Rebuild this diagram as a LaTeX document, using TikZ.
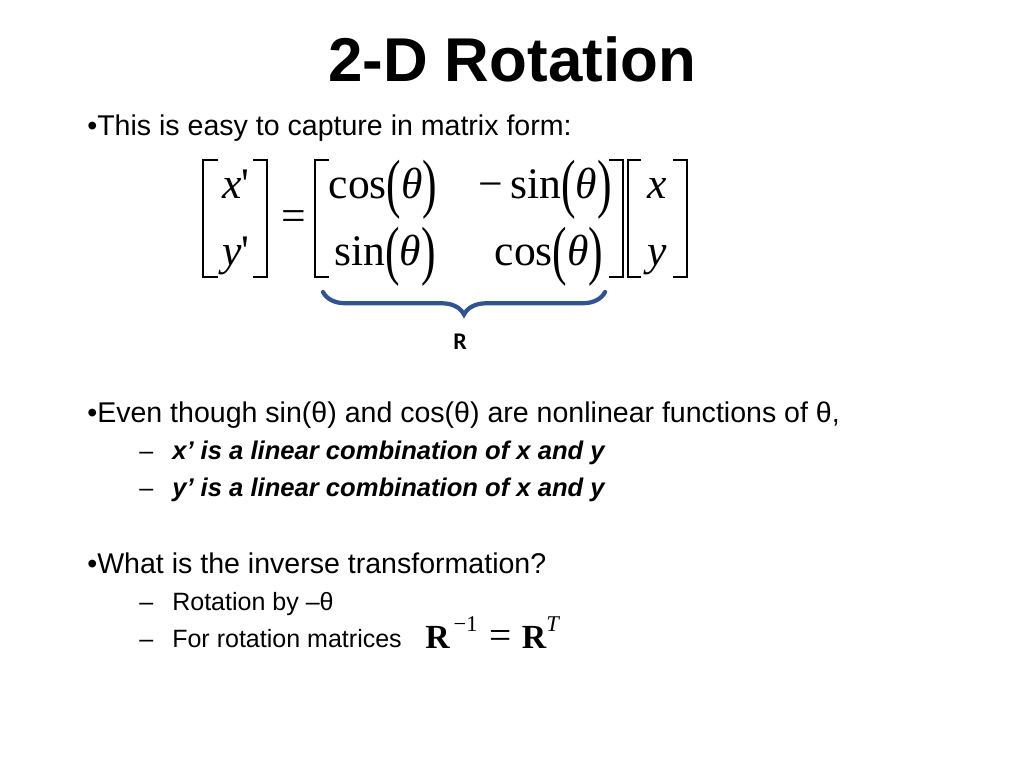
\documentclass[tikz,border=0pt]{standalone}
\usepackage{fontspec}
\usepackage{graphicx}
\usetikzlibrary{decorations.pathreplacing}
\setmainfont{Liberation Sans}
\newfontfamily\mathserif{Liberation Serif}
\newfontfamily\labelfont{Carlito}
\definecolor{braceblue}{RGB}{47,84,143}
\newcommand\tallopen{\raisebox{-0.18em}{\scalebox{1}[1.5]{(}}}
\newcommand\tallclose{\raisebox{-0.18em}{\scalebox{1}[1.5]{)}}}
\begin{document}
\begin{tikzpicture}[x=0.025cm, y=-0.025cm,
    title node/.style={font=\bfseries\fontsize{44}{50}\selectfont, anchor=base, inner sep=0},
    main item/.style={font=\fontsize{20.3}{24}\selectfont, anchor=base west, inner sep=0},
    sub item/.style={font=\fontsize{17.8}{21}\selectfont, anchor=base west, inner sep=0},
    sub bold/.style={font=\bfseries\itshape\fontsize{18.2}{21}\selectfont, anchor=base west, inner sep=0},
    entry/.style={font=\mathserif\fontsize{31}{36}\selectfont, anchor=base, inner sep=0},
    bracket/.style={line width=1.4pt},
    rbrace/.style={decorate, decoration={brace, mirror, amplitude=16pt}, line width=3pt, braceblue, line cap=round}]

    \fill[white] (0,0) rectangle (1024,768);
    \useasboundingbox (0,0) rectangle (1024,768);

    \node[title node] (title) at (512,82) {2-D Rotation};

    \node[main item] (easy) at (87,136) {•This is easy to capture in matrix form:};

    \node[entry] (xp) at (236,198) {\textit{x}\textquotesingle};
    \node[entry] (yp) at (236,265) {\textit{y}\textquotesingle};
    \node[entry, anchor=center] (eq) at (294,221) {=};
    \node[entry] (r11) at (383,198) {cos\tallopen\textit{θ}\tallclose};
    \node[entry] (r12) at (545,198) {−\,sin\tallopen\textit{θ}\tallclose};
    \node[entry] (r21) at (385,265) {sin\tallopen\textit{θ}\tallclose};
    \node[entry] (r22) at (549,265) {cos\tallopen\textit{θ}\tallclose};
    \node[entry] (xv) at (657,198) {\textit{x}};
    \node[entry] (yv) at (657,265) {\textit{y}};

    \draw[bracket] (218,160) -- (203,160) -- (203,277) -- (218,277);
    \draw[bracket] (253,160) -- (267,160) -- (267,277) -- (253,277);
    \draw[bracket] (329,160) -- (315,160) -- (315,277) -- (329,277);
    \draw[bracket] (609,160) -- (623,160) -- (623,277) -- (609,277);
    \draw[bracket] (641,160) -- (628,160) -- (628,277) -- (641,277);
    \draw[bracket] (673,160) -- (687,160) -- (687,277) -- (673,277);

    \coordinate (bl) at (323,292);
    \coordinate (br) at (605,292);
    \draw[rbrace] (bl) -- (br);
    \node[font=\labelfont\bfseries\fontsize{17}{19}\selectfont] (rlab) at (460,342) {R};

    \node[main item] (even) at (87,422) {•Even though sin(θ) and cos(θ) are nonlinear functions of θ,};
    \node[sub item] (d1) at (139,459) {–};
    \node[sub bold] (xlin) at (172,459) {x’ is a linear combination of x and y};
    \node[sub item] (d2) at (139,496) {–};
    \node[sub bold] (ylin) at (172,496) {y’ is a linear combination of x and y};

    \node[main item] (what) at (87,573) {•What is the inverse transformation?};
    \node[sub item] (d3) at (139,610) {–};
    \node[sub item] (rot) at (172,610) {Rotation by –θ};
    \node[sub item] (d4) at (139,647) {–};
    \node[sub item] (forrot) at (172,647) {For rotation matrices};
    \node[font=\mathserif\fontsize{24}{30}\selectfont, anchor=base west, inner sep=0] (rinv) at (425,648)
        {\textbf{R}\raisebox{0.5em}{\fontsize{16}{18}\selectfont\,−1}\hspace{0.35em}{\fontsize{28}{30}\selectfont=}\hspace{0.3em}\textbf{R}\raisebox{0.5em}{\fontsize{16}{18}\selectfont\textit{T}}};
\end{tikzpicture}
\end{document}
